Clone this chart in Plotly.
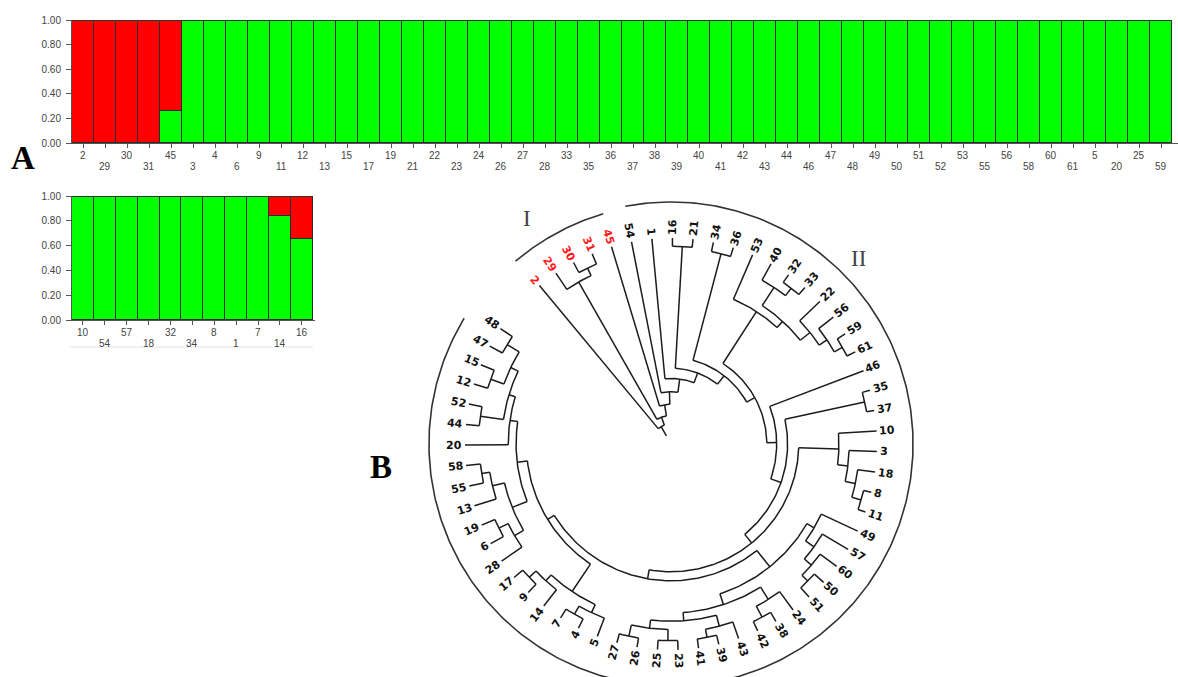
import numpy as np
import plotly.graph_objects as go

# ---------------- Panel A: STRUCTURE membership, K = 2 ----------------
TOP_IDS = ["2", "29", "30", "31", "45", "3", "4", "6", "9", "11", "12", "13", "15",
           "17", "19", "21", "22", "23", "24", "26", "27", "28", "33", "35", "36",
           "37", "38", "39", "40", "41", "42", "43", "44", "46", "47", "48", "49",
           "50", "51", "52", "53", "55", "56", "58", "60", "61", "5", "20", "25", "59"]
TOP_GREEN = [0.0, 0.0, 0.0, 0.0, 0.26, 1.0, 1.0, 1.0, 1.0, 1.0, 1.0, 1.0, 1.0,
             1.0, 1.0, 1.0, 1.0, 1.0, 1.0, 1.0, 1.0, 1.0, 1.0, 1.0, 1.0,
             1.0, 1.0, 1.0, 1.0, 1.0, 1.0, 1.0, 1.0, 1.0, 1.0, 1.0, 1.0,
             1.0, 1.0, 1.0, 1.0, 1.0, 1.0, 1.0, 1.0, 1.0, 1.0, 1.0, 1.0, 1.0]
TOP_RED = [1.0, 1.0, 1.0, 1.0, 0.74, 0.0, 0.0, 0.0, 0.0, 0.0, 0.0, 0.0, 0.0,
           0.0, 0.0, 0.0, 0.0, 0.0, 0.0, 0.0, 0.0, 0.0, 0.0, 0.0, 0.0,
           0.0, 0.0, 0.0, 0.0, 0.0, 0.0, 0.0, 0.0, 0.0, 0.0, 0.0, 0.0,
           0.0, 0.0, 0.0, 0.0, 0.0, 0.0, 0.0, 0.0, 0.0, 0.0, 0.0, 0.0, 0.0]

BOTTOM_IDS = ["10", "54", "57", "18", "32", "34", "8", "1", "7", "14", "16"]
BOTTOM_GREEN = [1.0, 1.0, 1.0, 1.0, 1.0, 1.0, 1.0, 1.0, 1.0, 0.84, 0.65]
BOTTOM_RED = [0.0, 0.0, 0.0, 0.0, 0.0, 0.0, 0.0, 0.0, 0.0, 0.16, 0.35]

Y_TICKS = [0.0, 0.2, 0.4, 0.6, 0.8, 1.0]
Y_TICK_TEXT = ["0.00", "0.20", "0.40", "0.60", "0.80", "1.00"]

# ---------------- Panel B: circular dendrogram ----------------
LEAF_ORDER = ["2", "29", "30", "31", "45", "54", "1", "16", "21", "34", "36", "53",
              "40", "32", "33", "22", "56", "59", "61", "46", "35", "37", "10", "3",
              "18", "8", "11", "49", "57", "60", "50", "51", "24", "38", "42", "43",
              "39", "41", "23", "25", "26", "27", "5", "4", "7", "14", "9", "17",
              "28", "6", "19", "13", "55", "58", "20", "44", "52", "12", "15", "47", "48"]
GROUP_I = ["2", "29", "30", "31", "45"]

# (node, child a, child b, distance from the root; leaf tips sit at 1.0)
MERGES = [
    ("n30_31", "30", "31", 0.945),
    ("n29_31", "29", "n30_31", 0.905),
    ("n16_21", "16", "21", 0.960),
    ("n34_36", "34", "36", 0.955),
    ("n32_33", "32", "33", 0.955),
    ("n40", "40", "n32_33", 0.910),
    ("n59_61", "59", "61", 0.955),
    ("n56", "56", "n59_61", 0.910),
    ("n22", "22", "n56", 0.865),
    ("n40_22", "n40", "n22", 0.805),
    ("n53", "53", "n40_22", 0.765),
    ("n35_37", "35", "37", 0.962),
    ("n8_11", "8", "11", 0.962),
    ("n18", "18", "n8_11", 0.915),
    ("n3", "3", "n18", 0.865),
    ("n10", "10", "n3", 0.815),
    ("n50_51", "50", "51", 0.940),
    ("n60", "60", "n50_51", 0.900),
    ("n57", "57", "n60", 0.855),
    ("n49", "49", "n57", 0.805),
    ("n38_42", "38", "42", 0.950),
    ("n24", "24", "n38_42", 0.890),
    ("n39_41", "39", "41", 0.955),
    ("n43", "43", "n39_41", 0.915),
    ("n23_25", "23", "25", 0.955),
    ("n26_27", "26", "27", 0.955),
    ("n23_27", "n23_25", "n26_27", 0.900),
    ("n43_27", "n43", "n23_27", 0.860),
    ("n24_27", "n24", "n43_27", 0.820),
    ("n49_27", "n49", "n24_27", 0.765),
    ("n4_7", "4", "7", 0.950),
    ("n5", "5", "n4_7", 0.905),
    ("n9_17", "9", "17", 0.945),
    ("n14", "14", "n9_17", 0.900),
    ("n5_17", "n5", "n14", 0.862),
    ("n6_19", "6", "19", 0.930),
    ("n28", "28", "n6_19", 0.880),
    ("n55_58", "55", "58", 0.930),
    ("n13", "13", "n55_58", 0.890),
    ("n28_58", "n28", "n13", 0.830),
    ("n44_52", "44", "52", 0.935),
    ("n12_15", "12", "15", 0.930),
    ("n47_48", "47", "48", 0.930),
    ("n12_48", "n12_15", "n47_48", 0.862),
    ("n44_48", "n44_52", "n12_48", 0.822),
    ("n20", "20", "n44_48", 0.790),
    ("n28_48", "n28_58", "n20", 0.752),
    ("n5_48", "n5_17", "n28_48", 0.702),
    ("n49_48", "n49_27", "n5_48", 0.664),
    ("n10_48", "n10", "n49_48", 0.620),
    ("n35_48", "n35_37", "n10_48", 0.566),
    ("n46_48", "46", "n35_48", 0.513),
    ("n53_48", "n53", "n46_48", 0.465),
    ("n34_48", "n34_36", "n53_48", 0.420),
    ("n16_48", "n16_21", "n34_48", 0.368),
    ("n1_48", "1", "n16_48", 0.318),
    ("n54_48", "54", "n1_48", 0.254),
    ("n45_48", "45", "n54_48", 0.193),
    ("n29_48", "n29_31", "n45_48", 0.138),
    ("root", "2", "n29_48", 0.097),
]
ROOT_EDGE = 0.052  # length of the stem drawn below the root

# ---------------- page geometry ----------------
W, H = 1178, 677
GREEN, RED, EDGE = "#00FF00", "#FF0000", "#2b2b2b"
AXIS = "#555555"
TICK_FONT = dict(family="Liberation Sans, Arial, sans-serif", size=10, color="#444444")


def fx(p):
    return p / W


def fy(p):
    return 1 - p / H


fig = go.Figure()

# stacked membership bars
for ids, g, r, xa, ya in [(TOP_IDS, TOP_GREEN, TOP_RED, "x", "y"),
                          (BOTTOM_IDS, BOTTOM_GREEN, BOTTOM_RED, "x2", "y2")]:
    xs = list(range(len(ids)))
    fig.add_trace(go.Bar(x=xs, y=g, marker=dict(color=GREEN, line=dict(color=EDGE, width=1.2)),
                         xaxis=xa, yaxis=ya, hoverinfo="skip", showlegend=False))
    fig.add_trace(go.Bar(x=xs, y=r, marker=dict(color=RED, line=dict(color=EDGE, width=1.2)),
                         xaxis=xa, yaxis=ya, hoverinfo="skip", showlegend=False))

annotations = []

# staggered sample labels under the bars
for ids, xa, rows in [(TOP_IDS, "x", (155, 166)), (BOTTOM_IDS, "x2", (332, 343))]:
    for i, lab in enumerate(ids):
        annotations.append(dict(x=i, y=fy(rows[i % 2]), xref=xa, yref="paper", text=lab,
                                showarrow=False, xanchor="center", yanchor="middle",
                                font=TICK_FONT))

# ---------------- dendrogram layout ----------------
CX, CY, R_TIP = 671.0, 444.0, 206.0
THETA0 = 129.7
STEP = 5.73

pos = {leaf: (THETA0 - i * STEP, 1.0) for i, leaf in enumerate(LEAF_ORDER)}


def to_xy(theta, r):
    t = np.radians(theta)
    return CX + R_TIP * r * np.cos(t), CY - R_TIP * r * np.sin(t)


lx, ly = [], []


def seg(theta, r0, r1):
    x0, y0 = to_xy(theta, r0)
    x1, y1 = to_xy(theta, r1)
    lx.extend([x0, x1, None])
    ly.extend([y0, y1, None])


def arc(t0, t1, r):
    n = max(2, int(abs(t1 - t0) / 1.0) + 2)
    th = np.linspace(t0, t1, n)
    x, y = to_xy(th, r)
    lx.extend(list(x) + [None])
    ly.extend(list(y) + [None])


for node, a, b, h in MERGES:
    ta, ra = pos[a]
    tb, rb = pos[b]
    pos[node] = ((ta + tb) / 2, h)
    arc(ta, tb, h)
    seg(ta, h, ra)
    seg(tb, h, rb)

seg(pos["root"][0], pos["root"][1] - ROOT_EDGE, pos["root"][1])

fig.add_trace(go.Scatter(x=lx, y=ly, mode="lines", line=dict(color="#1c1c1c", width=1.5),
                         xaxis="x3", yaxis="y3", hoverinfo="skip", showlegend=False))

# group brackets I and II
bx, by = [], []
for t0, t1, rr in [(130.4, 106.4, 1.165), (100.9, 148.7 - 360, 1.175)]:
    th = np.linspace(t0, t1, 400)
    x, y = to_xy(th, rr)
    bx.extend(list(x) + [None])
    by.extend(list(y) + [None])
fig.add_trace(go.Scatter(x=bx, y=by, mode="lines", line=dict(color="#333333", width=1.6),
                         xaxis="x3", yaxis="y3", hoverinfo="skip", showlegend=False))

# leaf labels, written radially
CHAR_W = 7.6
for leaf in LEAF_ORDER:
    th = pos[leaf][0]
    rr = 1.0 + (3 + len(leaf) * CHAR_W / 2) / R_TIP
    x, y = to_xy(th, rr)
    tn = ((th + 180) % 360) - 180
    if -90 <= tn <= 90:
        ang = -tn
    else:
        ang = 180 - tn
    ang = ((ang + 180) % 360) - 180
    annotations.append(dict(x=x, y=y, xref="x3", yref="y3", text=leaf, textangle=ang,
                            showarrow=False, xanchor="center", yanchor="middle",
                            font=dict(family="DejaVu Sans, Verdana, sans-serif", size=11,
                                      weight="bold",
                                      color="#FF1A1A" if leaf in GROUP_I else "#111111")))

# group and panel letters
for txt, px, py in [("I", 527, 218), ("II", 858, 258)]:
    annotations.append(dict(x=fx(px), y=fy(py), xref="paper", yref="paper", text=txt,
                            showarrow=False, xanchor="center", yanchor="middle",
                            font=dict(family="Liberation Serif, Times New Roman, serif",
                                      size=23, color="#444444")))
for txt, px, py in [("A", 23, 158), ("B", 381, 467)]:
    annotations.append(dict(x=fx(px), y=fy(py), xref="paper", yref="paper", text=txt,
                            showarrow=False, xanchor="center", yanchor="middle",
                            font=dict(family="Liberation Serif, Times New Roman, serif",
                                      size=33, weight="bold", color="#000000")))

bar_x = dict(showline=True, linecolor=AXIS, linewidth=1, ticks="outside", ticklen=4,
             tickcolor=AXIS, showticklabels=False, showgrid=False, zeroline=False,
             fixedrange=True, automargin=False)
bar_y = dict(range=[0, 1], showline=True, linecolor=AXIS, linewidth=1, ticks="outside",
             ticklen=5, tickcolor=AXIS, tickvals=Y_TICKS, ticktext=Y_TICK_TEXT,
             tickfont=TICK_FONT, ticklabelstandoff=3, showgrid=False, zeroline=False,
             fixedrange=True, automargin=False)

# darker rim along the 1.00 level of both bar panels
rims = [dict(type="line", xref="x", yref="y", x0=-0.5, x1=len(TOP_IDS) - 0.5, y0=1, y1=1,
             line=dict(color="#333333", width=2)),
        dict(type="line", xref="x2", yref="y2", x0=-0.5, x1=len(BOTTOM_IDS) - 0.5, y0=1, y1=1,
             line=dict(color="#333333", width=2)),
        dict(type="line", xref="paper", yref="paper", x0=fx(70), x1=fx(313),
             y0=fy(347), y1=fy(347), line=dict(color="#e4e4e4", width=1))]

fig.update_layout(
    width=W, height=H, margin=dict(l=0, r=0, t=0, b=0, autoexpand=False),
    paper_bgcolor="white", plot_bgcolor="rgba(0,0,0,0)",
    barmode="stack", bargap=0, showlegend=False,
    xaxis=dict(domain=[fx(72), 1.0], range=[-0.5, 49.77],
               tickvals=list(range(len(TOP_IDS))), anchor="y", **bar_x),
    yaxis=dict(domain=[fy(143.3), fy(20)], anchor="x", **bar_y),
    xaxis2=dict(domain=[fx(72), fx(315)], range=[-0.5, 10.6],
                tickvals=list(range(len(BOTTOM_IDS))), anchor="y2", **bar_x),
    yaxis2=dict(domain=[fy(320), fy(196)], anchor="x2", **bar_y),
    xaxis3=dict(domain=[0, 1], range=[0, W], visible=False, anchor="y3", fixedrange=True),
    yaxis3=dict(domain=[0, 1], range=[H, 0], visible=False, anchor="x3", fixedrange=True),
    annotations=annotations,
    shapes=rims,
)

fig.write_html("out.html", config={"displayModeBar": False})
